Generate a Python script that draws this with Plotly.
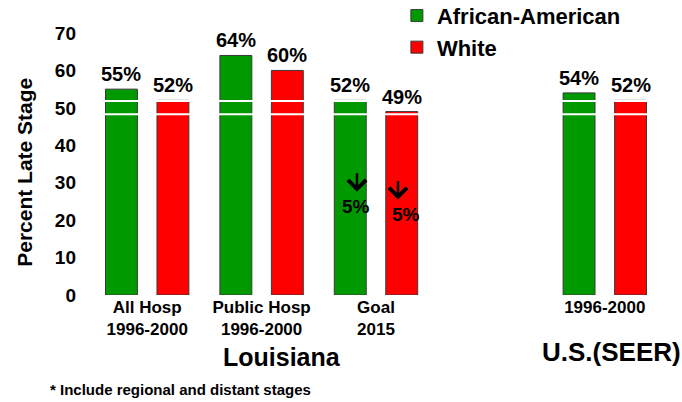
import plotly.graph_objects as go

# Late-stage diagnosis share by hospital group and race
categories = ["All Hosp<br>1996-2000", "Public Hosp<br>1996-2000", "Goal<br>2015", " ", "1996-2000"]
bar_groups = ["All Hosp<br>1996-2000", "Public Hosp<br>1996-2000", "Goal<br>2015", "1996-2000"]
african_american = [55, 64, 52, 54]
white = [52, 60, 49, 52]
goal_reduction = ["5%", "5%"]
y_ticks = [0, 10, 20, 30, 40, 50, 60, 70]

FONT = "Liberation Sans, Arial, sans-serif"
GREEN = "#009a00"
RED = "#ff0000"
BAR_OFFSET_PX = 25.7  # half distance between the two bars of a group


def bold(size):
    return dict(size=size, color="black", family=FONT, weight="bold")


fig = go.Figure()
annotations = []
for name, vals, color, sign in [("African-American", african_american, GREEN, -1),
                                 ("White", white, RED, 1)]:
    fig.add_trace(go.Bar(
        name=name, x=bar_groups, y=vals,
        marker=dict(color=color, line=dict(color="#3a3a3a", width=1)),
    ))
    # value labels above each bar (white box hides the break marks behind them)
    for cat, v in zip(bar_groups, vals):
        annotations.append(dict(x=cat, y=v, xref="x", yref="y", xshift=sign * BAR_OFFSET_PX,
                                yshift=15, yanchor="middle", text=f"{v}%", showarrow=False,
                                bgcolor="white", borderpad=0, font=bold(20)))

# downward arrows with the targeted reduction inside the 2015 goal bars
for shift, head_y, text_shift, text_y, label in [(-19, 27.6, -20, 23.6, goal_reduction[0]),
                                                  (22, 25.5, 30, 21.4, goal_reduction[1])]:
    annotations.append(dict(x="Goal<br>2015", y=head_y, xref="x", yref="y", xshift=shift,
                            text="", showarrow=True, ax=0, ay=-20, arrowhead=4,
                            arrowsize=1.4, arrowwidth=2.5, arrowcolor="black", standoff=0))
    annotations.append(dict(x="Goal<br>2015", y=text_y, xref="x", yref="y", xshift=text_shift,
                            text=label, showarrow=False, font=bold(19)))

annotations += [
    dict(text="Percent Late Stage", textangle=-90, xref="paper", yref="paper",
         x=-0.116, y=0.469, xanchor="center", yanchor="middle", showarrow=False,
         font=bold(21)),
    dict(text="Louisiana", xref="paper", yref="paper", x=0.336, y=-0.238,
         xanchor="center", yanchor="middle", showarrow=False, font=bold(25)),
    dict(text="U.S.(SEER)", xref="paper", yref="paper", x=0.912, y=-0.217,
         xanchor="center", yanchor="middle", showarrow=False, font=bold(26)),
    dict(text="* Include regional and distant stages", xref="paper", yref="paper",
         x=-0.0742, y=-0.36, xanchor="left", yanchor="middle", showarrow=False,
         font=bold(15)),
]

# axis-break marks drawn across the bars
shapes = [dict(type="line", xref="paper", yref="y", x0=0, x1=1, y0=yv, y1=yv,
               line=dict(color="white", width=2), layer="above")
          for yv in (48.3, 51.8)]

fig.update_layout(
    width=682, height=402,
    margin=dict(l=89.5, r=20, t=33, b=106.5, autoexpand=False),
    paper_bgcolor="white", plot_bgcolor="white",
    font=dict(family=FONT, color="black", weight="bold"),
    barmode="group", bargap=0.1, bargroupgap=0.38,
    showlegend=True,
    legend=dict(x=0.5365, y=1.146, xanchor="left", yanchor="top",
                font=bold(22), bgcolor="rgba(0,0,0,0)"),
    annotations=annotations, shapes=shapes,
)
fig.update_xaxes(type="category", categoryorder="array", categoryarray=categories,
                 range=[-0.5, 4.5], showgrid=False, zeroline=False, showline=False,
                 ticks="", tickfont=bold(17))
fig.update_yaxes(range=[0, 70], tickvals=y_ticks, showgrid=False, zeroline=False,
                 showline=False, ticks="", ticklabelstandoff=13, tickfont=bold(19))

fig.write_html("out.html")
